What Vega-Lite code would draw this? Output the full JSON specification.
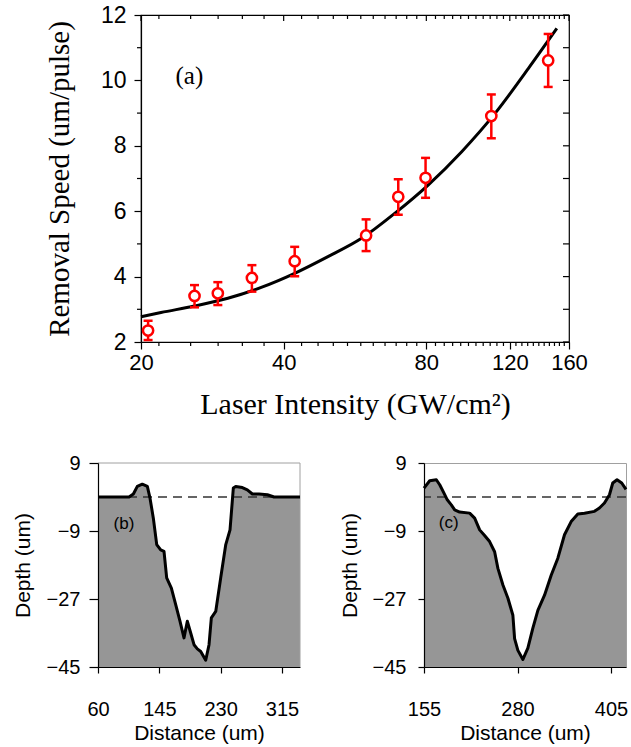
{
  "$schema": "https://vega.github.io/schema/vega-lite/v6.json",
  "padding": {"left": 12, "top": 3, "right": 0, "bottom": 0},
  "background": "white",
  "config": {
    "view": {"stroke": null},
    "font": "Liberation Sans",
    "axis": {"grid": false, "domainColor": "black", "tickColor": "black", "labelColor": "black", "titleColor": "black", "titleFontWeight": "normal", "domainWidth": 1.2, "tickWidth": 1.2}
  },
  "datasets": {
    "curve": [
      {"I": 20, "v": 2.77}, {"I": 22.04, "v": 2.9}, {"I": 25.94, "v": 3.1}, {"I": 30.5, "v": 3.34},
      {"I": 35.87, "v": 3.67}, {"I": 42.2, "v": 4.1}, {"I": 49.6, "v": 4.61}, {"I": 58.4, "v": 5.17},
      {"I": 68.7, "v": 5.94}, {"I": 80.7, "v": 6.8}, {"I": 95.0, "v": 7.82}, {"I": 111.7, "v": 8.99},
      {"I": 131.4, "v": 10.37}, {"I": 150.8, "v": 11.59}
    ],
    "points": [
      {"I": 20.7, "v": 2.35, "lo": 2.06, "hi": 2.65},
      {"I": 25.94, "v": 3.41, "lo": 3.06, "hi": 3.74},
      {"I": 29.05, "v": 3.49, "lo": 3.13, "hi": 3.83},
      {"I": 34.28, "v": 3.96, "lo": 3.54, "hi": 4.35},
      {"I": 42.2, "v": 4.47, "lo": 4.01, "hi": 4.91},
      {"I": 59.7, "v": 5.26, "lo": 4.78, "hi": 5.75},
      {"I": 69.8, "v": 6.44, "lo": 5.89, "hi": 6.98},
      {"I": 79.7, "v": 7.02, "lo": 6.41, "hi": 7.63},
      {"I": 109.7, "v": 8.91, "lo": 8.23, "hi": 9.57},
      {"I": 144.6, "v": 10.61, "lo": 9.8, "hi": 11.42}
    ],
    "xmajor": [{"I": 20}, {"I": 40}, {"I": 80}, {"I": 120}, {"I": 160}],
    "xminor": [
      {"I": 21.818}, {"I": 25.455}, {"I": 29.091}, {"I": 32.727}, {"I": 36.364}, {"I": 43.636}, {"I": 47.273},
      {"I": 50.909}, {"I": 54.545}, {"I": 58.182}, {"I": 61.818}, {"I": 65.455}, {"I": 69.091}, {"I": 72.727},
      {"I": 76.364}, {"I": 83.636}, {"I": 87.273}, {"I": 90.909}, {"I": 94.545}, {"I": 98.182}, {"I": 101.818},
      {"I": 105.455}, {"I": 109.091}, {"I": 112.727}, {"I": 116.364}, {"I": 123.636}, {"I": 127.273},
      {"I": 130.909}, {"I": 134.545}, {"I": 138.182}, {"I": 141.818}, {"I": 145.455}, {"I": 149.091},
      {"I": 152.727}, {"I": 156.364}
    ],
    "yodd": [{"v": 3}, {"v": 5}, {"v": 7}, {"v": 9}, {"v": 11}],
    "yall": [{"v": 2}, {"v": 3}, {"v": 4}, {"v": 5}, {"v": 6}, {"v": 7}, {"v": 8}, {"v": 9}, {"v": 10}, {"v": 11}, {"v": 12}],
    "profB": [
      {"d": 60, "z": 0}, {"d": 103, "z": 0}, {"d": 109, "z": 0.8}, {"d": 114.5, "z": 2.8}, {"d": 121.4, "z": 3.4},
      {"d": 128.4, "z": 2.8}, {"d": 132.1, "z": -0.3}, {"d": 136.7, "z": -5.6}, {"d": 141.4, "z": -12.6},
      {"d": 146.9, "z": -14}, {"d": 151.5, "z": -14.4}, {"d": 155.2, "z": -21.4}, {"d": 161.7, "z": -24.1},
      {"d": 167.7, "z": -28.5}, {"d": 173.7, "z": -32.9}, {"d": 179.2, "z": -37.3}, {"d": 183.8, "z": -32.9},
      {"d": 188.5, "z": -36}, {"d": 193.1, "z": -39.1}, {"d": 197.7, "z": -40.2}, {"d": 202.4, "z": -40.9},
      {"d": 209.3, "z": -43.2}, {"d": 213.9, "z": -39.1}, {"d": 217.1, "z": -32}, {"d": 223.2, "z": -30.3},
      {"d": 230.1, "z": -21.4}, {"d": 237.1, "z": -12.6}, {"d": 243, "z": -8.7}, {"d": 247.6, "z": 2.4},
      {"d": 250.9, "z": 2.8}, {"d": 260.1, "z": 2.5}, {"d": 267, "z": 1.9}, {"d": 274, "z": 0.8},
      {"d": 283.2, "z": 0.8}, {"d": 294.8, "z": 0.6}, {"d": 304, "z": 0}, {"d": 340, "z": 0}
    ],
    "profC": [
      {"d": 155, "z": 2.36}, {"d": 162.6, "z": 4.3}, {"d": 171.5, "z": 4.57}, {"d": 176, "z": 3.24},
      {"d": 181.7, "z": 1.03}, {"d": 186.1, "z": -0.74}, {"d": 191.5, "z": -2.07}, {"d": 196, "z": -3.4},
      {"d": 202.6, "z": -4.0}, {"d": 216, "z": -4.27}, {"d": 222.7, "z": -5.6}, {"d": 229.4, "z": -8.7},
      {"d": 236, "z": -10.2}, {"d": 242.7, "z": -11.8}, {"d": 249.4, "z": -14.5}, {"d": 253.8, "z": -18.9},
      {"d": 260.5, "z": -23.3}, {"d": 267.2, "z": -26.8}, {"d": 273.8, "z": -31.3}, {"d": 276.1, "z": -37.5},
      {"d": 280.5, "z": -40.6}, {"d": 287.2, "z": -43}, {"d": 293.8, "z": -40}, {"d": 300.5, "z": -34.7},
      {"d": 307.2, "z": -30}, {"d": 316.1, "z": -26}, {"d": 325, "z": -20.7}, {"d": 333.9, "z": -16.2},
      {"d": 342.8, "z": -10}, {"d": 351.7, "z": -6.5}, {"d": 360.6, "z": -4.5}, {"d": 369.5, "z": -4.3},
      {"d": 382.8, "z": -3.8}, {"d": 389.5, "z": -2.9}, {"d": 396.2, "z": -1.6}, {"d": 402.9, "z": 0.6},
      {"d": 407.3, "z": 3.7}, {"d": 413, "z": 4.57}, {"d": 419.3, "z": 3.7}, {"d": 425, "z": 2.0}
    ]
  },
  "spacing": 32,
  "vconcat": [
    {
      "width": 428,
      "height": 327,
      "view": {"stroke": "black", "strokeWidth": 1.2},
      "layer": [
        {
          "data": {"name": "curve"},
          "mark": {"type": "line", "color": "black", "strokeWidth": 3, "interpolate": "monotone"},
          "encoding": {
            "x": {"field": "I", "type": "quantitative", "scale": {"type": "log", "domain": [20, 160], "nice": false},
              "axis": {"orient": "bottom", "values": [20, 40, 80, 120, 160], "tickSize": 7, "labelPadding": 3, "labelFontSize": 22, "labelFont": "Liberation Sans", "title": "Laser Intensity (GW/cm²)", "titleFont": "Liberation Serif", "titleFontSize": 30, "titlePadding": 16, "labelOverlap": false, "labelFlush": false}},
            "y": {"field": "v", "type": "quantitative", "scale": {"domain": [2, 12], "nice": false, "zero": false},
              "axis": {"orient": "left", "values": [2, 4, 6, 8, 10, 12], "tickSize": 7, "labelPadding": 8, "labelFontSize": 23, "labelFont": "Liberation Sans", "title": "Removal Speed (um/pulse)", "titleFont": "Liberation Serif", "titleFontSize": 29, "titlePadding": 26, "labelOverlap": false, "labelFlush": false}}
          }
        },
        {
          "data": {"name": "xminor"},
          "mark": {"type": "rule", "color": "black", "strokeWidth": 1.2, "y2Offset": 4},
          "encoding": {"x": {"field": "I", "type": "quantitative"}, "y": {"datum": 2}, "y2": {"datum": 2}}
        },
        {
          "data": {"name": "xminor"},
          "mark": {"type": "rule", "color": "black", "strokeWidth": 1.2, "y2Offset": 4},
          "encoding": {"x": {"field": "I", "type": "quantitative"}, "y": {"datum": 12}, "y2": {"datum": 12}}
        },
        {
          "data": {"name": "xmajor"},
          "mark": {"type": "rule", "color": "black", "strokeWidth": 1.2, "y2Offset": 6},
          "encoding": {"x": {"field": "I", "type": "quantitative"}, "y": {"datum": 12}, "y2": {"datum": 12}}
        },
        {
          "data": {"name": "yodd"},
          "mark": {"type": "rule", "color": "black", "strokeWidth": 1.2, "x2Offset": -4},
          "encoding": {"y": {"field": "v", "type": "quantitative"}, "x": {"datum": 20}, "x2": {"datum": 20}}
        },
        {
          "data": {"name": "yall"},
          "mark": {"type": "rule", "color": "black", "strokeWidth": 1.2, "x2Offset": -6},
          "encoding": {"y": {"field": "v", "type": "quantitative"}, "x": {"datum": 160}, "x2": {"datum": 160}}
        },
        {
          "data": {"name": "points"},
          "mark": {"type": "rule", "color": "#ff0000", "strokeWidth": 2.5},
          "encoding": {
            "x": {"field": "I", "type": "quantitative"},
            "y": {"field": "lo", "type": "quantitative"},
            "y2": {"field": "hi"}
          }
        },
        {
          "data": {"name": "points"},
          "mark": {"type": "tick", "orient": "horizontal", "color": "#ff0000", "thickness": 2.5, "size": 9, "opacity": 1},
          "encoding": {
            "x": {"field": "I", "type": "quantitative"},
            "y": {"field": "lo", "type": "quantitative"}
          }
        },
        {
          "data": {"name": "points"},
          "mark": {"type": "tick", "orient": "horizontal", "color": "#ff0000", "thickness": 2.5, "size": 9, "opacity": 1},
          "encoding": {
            "x": {"field": "I", "type": "quantitative"},
            "y": {"field": "hi", "type": "quantitative"}
          }
        },
        {
          "data": {"name": "points"},
          "mark": {"type": "point", "shape": "circle", "filled": true, "fill": "white", "stroke": "#ff0000", "strokeWidth": 2.5, "size": 105, "opacity": 1},
          "encoding": {
            "x": {"field": "I", "type": "quantitative"},
            "y": {"field": "v", "type": "quantitative"}
          }
        },
        {
          "data": {"values": [{"I": 25.3, "v": 10.13, "t": "(a)"}]},
          "mark": {"type": "text", "font": "Liberation Serif", "fontSize": 25, "color": "black", "baseline": "middle", "align": "center"},
          "encoding": {
            "x": {"field": "I", "type": "quantitative"},
            "y": {"field": "v", "type": "quantitative"},
            "text": {"field": "t"}
          }
        }
      ]
    },
    {
      "spacing": 124,
      "bounds": "flush",
      "hconcat": [
        {
          "width": 159,
          "height": 204,
          "layer": [
            {
              "data": {"name": "profB"},
              "mark": {"type": "area", "color": "#969696", "opacity": 1},
              "encoding": {
                "x": {"field": "d", "type": "quantitative", "scale": {"domain": [60, 340], "range": [-43, 159], "nice": false, "zero": false},
                  "axis": {"values": [60, 145, 230, 315], "tickSize": 6, "labelPadding": 26, "labelFontSize": 20, "title": "Distance (um)", "titleFontSize": 21, "titlePadding": 3, "zindex": 1, "labelFlush": false}},
                "y": {"field": "z", "type": "quantitative", "scale": {"domain": [-45, 9], "nice": false, "zero": false},
                  "axis": {"values": [9, -9, -27, -45], "offset": 43, "tickSize": 9, "labelPadding": 9, "labelFontSize": 20, "title": "Depth (um)", "titleFontSize": 21, "titlePadding": 13, "zindex": 1, "labelFlush": false}},
                "y2": {"datum": -45}
              }
            },
            {
              "data": {"values": [{}]},
              "mark": {"type": "rule", "color": "#a0a0a0", "strokeWidth": 1},
              "encoding": {"x": {"datum": 60}, "x2": {"datum": 340}, "y": {"datum": 9}}
            },
            {
              "data": {"values": [{}]},
              "mark": {"type": "rule", "color": "#a0a0a0", "strokeWidth": 1},
              "encoding": {"x": {"datum": 340}, "y": {"datum": -45}, "y2": {"datum": 9}}
            },
            {
              "data": {"values": [{}]},
              "mark": {"type": "rule", "strokeDash": [9, 6], "color": "#333333", "strokeWidth": 1.3},
              "encoding": {"x": {"datum": 60}, "x2": {"datum": 340}, "y": {"datum": 0}}
            },
            {
              "data": {"name": "profB"},
              "mark": {"type": "line", "color": "black", "strokeWidth": 3, "strokeJoin": "round"},
              "encoding": {
                "x": {"field": "d", "type": "quantitative"},
                "y": {"field": "z", "type": "quantitative"}
              }
            },
            {
              "data": {"values": [{"d": 96, "z": -7.1, "t": "(b)"}]},
              "mark": {"type": "text", "fontSize": 17, "color": "black"},
              "encoding": {
                "x": {"field": "d", "type": "quantitative"},
                "y": {"field": "z", "type": "quantitative"},
                "text": {"field": "t"}
              }
            }
          ]
        },
        {
          "width": 202,
          "height": 204,
          "view": {"stroke": "#a0a0a0", "strokeWidth": 1},
          "layer": [
            {
              "data": {"name": "profC"},
              "mark": {"type": "area", "color": "#969696", "opacity": 1},
              "encoding": {
                "x": {"field": "d", "type": "quantitative", "scale": {"domain": [155, 425], "nice": false, "zero": false},
                  "axis": {"values": [155, 280, 405], "tickSize": 6, "labelPadding": 26, "labelFontSize": 20, "title": "Distance (um)", "titleFontSize": 21, "titlePadding": 3, "zindex": 1, "labelFlush": false}},
                "y": {"field": "z", "type": "quantitative", "scale": {"domain": [-45, 9], "nice": false, "zero": false},
                  "axis": {"values": [9, -9, -27, -45], "tickSize": 6, "labelPadding": 12, "labelFontSize": 20, "title": "Depth (um)", "titleFontSize": 21, "titlePadding": 12, "zindex": 1, "labelFlush": false}},
                "y2": {"datum": -45}
              }
            },
            {
              "data": {"values": [{}]},
              "mark": {"type": "rule", "strokeDash": [9, 6], "color": "#333333", "strokeWidth": 1.3},
              "encoding": {"y": {"datum": 0}}
            },
            {
              "data": {"name": "profC"},
              "mark": {"type": "line", "color": "black", "strokeWidth": 3, "strokeJoin": "round"},
              "encoding": {
                "x": {"field": "d", "type": "quantitative"},
                "y": {"field": "z", "type": "quantitative"}
              }
            },
            {
              "data": {"values": [{"d": 188, "z": -7.0, "t": "(c)"}]},
              "mark": {"type": "text", "fontSize": 17, "color": "black"},
              "encoding": {
                "x": {"field": "d", "type": "quantitative"},
                "y": {"field": "z", "type": "quantitative"},
                "text": {"field": "t"}
              }
            }
          ]
        }
      ]
    }
  ]
}
